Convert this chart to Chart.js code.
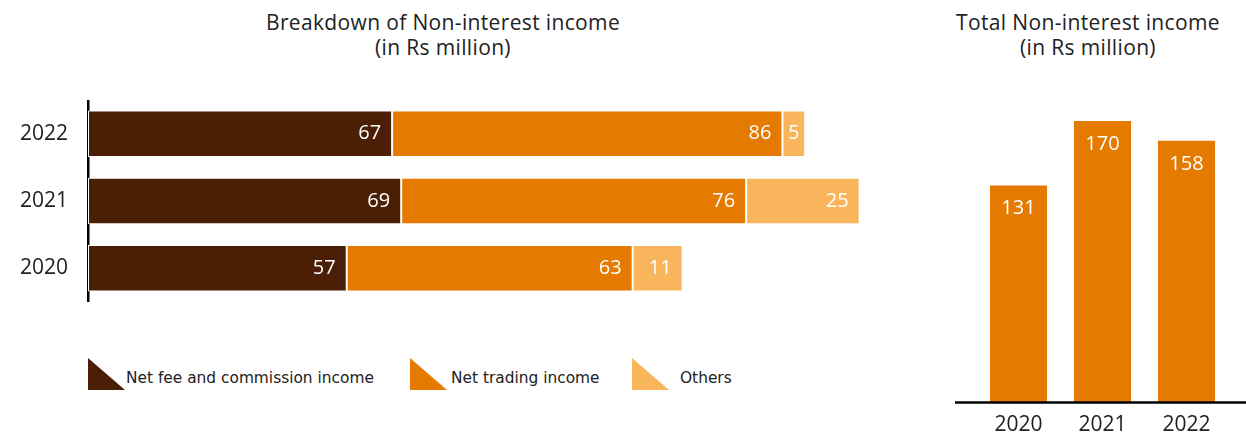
<!DOCTYPE html>
<html>
<head>
<meta charset="utf-8">
<script src="https://cdn.jsdelivr.net/npm/chart.js@4.4.1/dist/chart.umd.min.js"></script>
<style>
  body { margin: 0; width: 1246px; height: 436px; background: #fff; position: relative; overflow: hidden; font-family: "Open Sans", sans-serif; color: #222; }
  .title { position: absolute; text-align: center; font-size: 21px; letter-spacing: 0.35px; line-height: 25px; }
  #breakdown { position: absolute; left: 0; top: 100px; }
  #total { position: absolute; left: 955px; top: 60px; }
  .legend { position: absolute; top: 358px; height: 32px; display: flex; align-items: center; font-family: "DejaVu Sans", sans-serif; font-size: 15.4px; color: #222; }
  .legend span { position: relative; top: 4px; }
  .legend i { display: block; width: 37px; height: 32px; clip-path: polygon(0 0, 0 100%, 100% 100%); margin-right: 1px; }
</style>
</head>
<body>
<div class="title" style="left:243px; top:10px; width:400px;">Breakdown of Non-interest income<br>(in Rs million)</div>
<div class="title" style="left:938px; top:10px; width:300px;">Total Non-interest income<br>(in Rs million)</div>

<canvas id="breakdown" width="905" height="202"></canvas>
<canvas id="total" width="291" height="376"></canvas>

<div class="legend" style="left:88px;"><i style="background:#4a1f06"></i><span>Net fee and commission income</span></div>
<div class="legend" style="left:410px;"><i style="background:#e57a00"></i><span style="margin-left:3px">Net trading income</span></div>
<div class="legend" style="left:632px;"><i style="background:#f8b55b"></i><span style="margin-left:10px">Others</span></div>

<script>
// data
const years = ["2022", "2021", "2020"];
const feeIncome = [67, 69, 57];
const tradingIncome = [86, 76, 63];
const others = [5, 25, 11];
const totalYears = ["2020", "2021", "2022"];
const totalIncome = [131, 170, 158];

const DARK = "#4a1f06";
const ORANGE = "#e57a00";
const LIGHT = "#f8b55b";

// white numbers drawn inside the bars
const valueLabels = {
  id: "valueLabels",
  afterDatasetsDraw: (chart, args, opts) => {
    const { ctx } = chart;
    ctx.save();
    ctx.fillStyle = "#ffffff";
    ctx.font = "20px 'Open Sans', sans-serif";
    ctx.textBaseline = "middle";
    chart.data.datasets.forEach((ds, i) => {
      chart.getDatasetMeta(i).data.forEach((bar, j) => {
        const v = ds.data[j];
        if (opts.horizontal) {
          const w = bar.x - bar.base;
          if (w < 40) {
            ctx.textAlign = "center";
            ctx.fillText(v, (bar.x + bar.base) / 2, bar.y);
          } else {
            ctx.textAlign = "right";
            ctx.fillText(v, bar.x - 11, bar.y);
          }
        } else {
          ctx.textAlign = "center";
          ctx.fillText(v, bar.x, bar.y + 23);
        }
      });
    });
    ctx.restore();
  },
};

// base line running across the whole canvas
const baseLine = {
  id: "baseLine",
  afterDraw: (chart) => {
    const { ctx, chartArea } = chart;
    ctx.save();
    ctx.strokeStyle = "#000";
    ctx.lineWidth = 2.5;
    ctx.beginPath();
    ctx.moveTo(0, chartArea.bottom + 0.5);
    ctx.lineTo(chart.width, chartArea.bottom + 0.5);
    ctx.stroke();
    ctx.restore();
  },
};

const segment = (data, color) => ({
  data: data,
  backgroundColor: color,
  borderColor: "#ffffff",
  borderWidth: 1,
  borderSkipped: false,
  categoryPercentage: 1,
  barPercentage: 0.69,
});

new Chart(document.getElementById("breakdown"), {
  type: "bar",
  data: {
    labels: years,
    datasets: [
      segment(feeIncome, DARK),
      segment(tradingIncome, ORANGE),
      segment(others, LIGHT),
    ],
  },
  plugins: [valueLabels],
  options: {
    indexAxis: "y",
    responsive: false,
    animation: false,
    layout: { padding: 0 },
    scales: {
      x: { stacked: true, display: false, min: 0, max: 180 },
      y: {
        stacked: true,
        grid: { display: false, drawTicks: false },
        border: { display: true, color: "#000", width: 2.5 },
        ticks: {
          color: "#222",
          padding: 20,
          font: { size: 21, family: "Open Sans" },
        },
        afterFit: (scale) => {
          // fixed axis width, and no extra room above/below the bars
          scale.width = 88;
          scale.paddingTop = 0;
          scale.paddingBottom = 0;
        },
      },
    },
    plugins: {
      legend: { display: false },
      tooltip: { enabled: false },
      valueLabels: { horizontal: true },
    },
  },
});

new Chart(document.getElementById("total"), {
  type: "bar",
  data: {
    labels: totalYears,
    datasets: [
      {
        data: totalIncome,
        backgroundColor: ORANGE,
        borderWidth: 0,
        categoryPercentage: 1,
        barPercentage: 0.68,
      },
    ],
  },
  plugins: [valueLabels, baseLine],
  options: {
    responsive: false,
    animation: false,
    layout: { padding: { left: 21.5, right: 17.5, top: 11.4, bottom: 0 } },
    scales: {
      y: { display: false, min: 0, max: 200 },
      x: {
        grid: { display: false, drawTicks: false },
        border: { display: false },
        ticks: {
          color: "#222",
          padding: 10,
          font: { size: 21, family: "Open Sans" },
        },
        afterFit: (scale) => {
          scale.height = 34;
          scale.paddingLeft = 0;
          scale.paddingRight = 0;
        },
      },
    },
    plugins: {
      legend: { display: false },
      tooltip: { enabled: false },
      valueLabels: { horizontal: false },
    },
  },
});
</script>
</body>
</html>
